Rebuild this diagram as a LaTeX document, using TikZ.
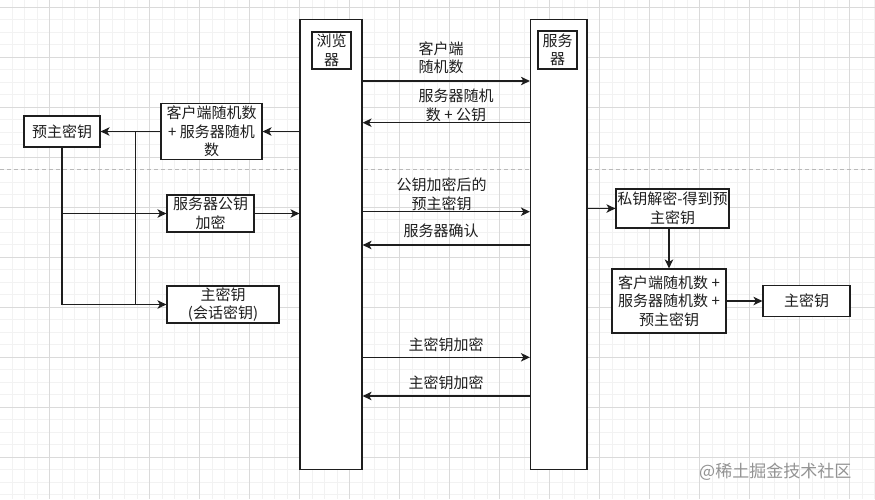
\documentclass[tikz,border=0pt]{standalone}
\usepackage{fontspec}
\setmainfont{Noto Sans CJK SC}
\usetikzlibrary{arrows.meta,calc}
\definecolor{gminor}{HTML}{F2F2F2}
\definecolor{gmajor}{HTML}{DADADA}
\definecolor{lc}{HTML}{1E1E1E}
\begin{document}
\begin{tikzpicture}[x=1pt,y=-1pt,
  txt/.style={font=\fontsize{15}{18.5}\selectfont, text=lc},
  box/.style={txt, draw=lc, line width=1.2pt, fill=white, inner sep=0pt, align=center},
  lbl/.style={txt, inner sep=0pt, align=center},
  ln/.style={draw=lc, line width=1.2pt},
  arr/.style={ln, -{Stealth[length=9pt,width=8.5pt,inset=2.5pt]}}]
\useasboundingbox (0,0) rectangle (875,499);
\fill[white] (0,0) rectangle (875,499);
% grid
\foreach \i in {0,...,70} { \draw[gminor, line width=0.6pt] ({-0.5+12.5*\i},0) -- ({-0.5+12.5*\i},499); }
\foreach \i in {0,...,40} { \draw[gminor, line width=0.6pt] (0,{-5.5+12.5*\i}) -- (875,{-5.5+12.5*\i}); }
\foreach \i in {0,...,16} { \draw[gmajor, line width=0.8pt] ({49.5+50*\i},0) -- ({49.5+50*\i},499); }
\foreach \i in {0,...,9} { \draw[gmajor, line width=0.8pt] (0,{7+50*\i}) -- (875,{7+50*\i}); }
% dashed separator
\draw[gray!55, line width=1pt, dash pattern=on 4pt off 3pt] (0,169) -- (875,169);

% lifelines
\node[box, minimum width=62pt, minimum height=450pt] (browser) at (331,244.5) {};
\node[box, minimum width=39pt, minimum height=37pt] (blabel) at (331.5,50.5) {浏览\\器};
\node[box, minimum width=56.5pt, minimum height=450pt] (server) at (558.75,244.5) {};
\node[box, minimum width=39pt, minimum height=38pt] (slabel) at (557.5,50) {服务\\器};

% left boxes
\node[box, minimum width=101pt, minimum height=56pt] (crbox) at (211.5,131.5) {客户端随机数\\+ 服务器随机\\数};
\node[box, minimum width=76pt, minimum height=31pt] (pre) at (62,131.5) {预主密钥};
\node[box, minimum width=87pt, minimum height=37pt] (pubenc) at (210.5,213.5) {服务器公钥\\加密};
\node[box, minimum width=112pt, minimum height=37pt] (master) at (223,304.5) {主密钥\\(会话密钥)};

% right boxes
\node[box, minimum width=113pt, minimum height=39pt] (dec) at (672.5,208.5) {私钥解密-得到预\\主密钥};
\node[box, minimum width=114pt, minimum height=64pt] (combo) at (669,301) {客户端随机数 +\\服务器随机数 +\\预主密钥};
\node[box, minimum width=87pt, minimum height=31pt] (mk2) at (806.5,301) {主密钥};

% message levels
\coordinate (m1) at (0,81);
\coordinate (m2) at (0,122.7);
\coordinate (m3) at (0,211.7);
\coordinate (m4) at (0,245);
\coordinate (m5) at (0,357.3);
\coordinate (m6) at (0,396);

\draw[arr] (browser.east |- m1) -- (server.west |- m1);
\draw[arr] (server.west |- m2) -- (browser.east |- m2);
\draw[arr] (browser.east |- m3) -- (server.west |- m3);
\draw[arr] (server.west |- m4) -- (browser.east |- m4);
\draw[arr] (browser.east |- m5) -- (server.west |- m5);
\draw[arr] (server.west |- m6) -- (browser.east |- m6);

\node[lbl] (l1) at (441,58) {客户端\\随机数};
\node[lbl] (l2) at (456,105.5) {服务器随机\\数 + 公钥};
\node[lbl] (l3) at (441.5,194.5) {公钥加密后的\\预主密钥};
\node[lbl] (l4) at (441,231) {服务器确认};
\node[lbl] (l5) at (446,345) {主密钥加密};
\node[lbl] (l6) at (446,383) {主密钥加密};

% left connectors
\coordinate (j1) at (135.5,0);
\draw[arr] (browser.west |- crbox.east) -- (crbox.east);
\draw[arr] (crbox.west) -- (pre.east |- crbox.west);
\draw[ln] (j1 |- crbox.west) -- (j1 |- master.west);
\draw[ln] (pre.south) -- (pre.south |- master.west);
\draw[arr] (pre.south |- pubenc.west) -- (pubenc.west);
\draw[arr] (pre.south |- master.west) -- (master.west);
\draw[arr] (pubenc.east) -- (browser.west |- pubenc.east);

% right connectors
\draw[arr] (server.east |- dec.west) -- (dec.west);
\draw[arr] (combo.north |- dec.south) -- (combo.north);
\draw[arr] (combo.east) -- (mk2.west |- combo.east);

% watermark
\node[anchor=west, inner sep=0pt, text=gray!85, font=\fontsize{17}{17}\selectfont] (wm) at (699,472) {@稀土掘金技术社区};
\end{tikzpicture}
\end{document}
